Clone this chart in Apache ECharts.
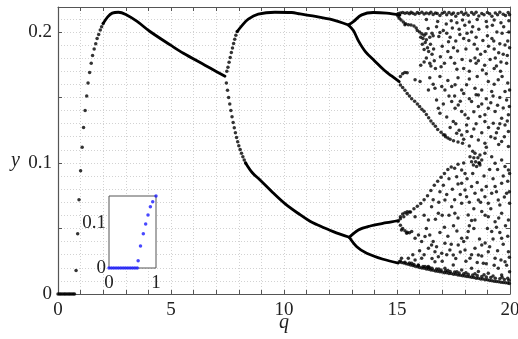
<!DOCTYPE html>
<html><head><meta charset="utf-8">
<script src="https://cdn.jsdelivr.net/npm/echarts@6/dist/echarts.min.js"></script>
<style>html,body{margin:0;padding:0;background:#fff}#c{width:518px;height:339px}</style>
</head><body><div id="c"></div>
<script>
// ---------- tick labels ----------
const xTickLabels = [0, 5, 10, 15, 20];
const yTickLabels = [0, 0.1, 0.2];
const insetXLabels = [0, 1];
const insetYLabels = [0, 0.1];

// ---------- data (q, y) ----------
const risePoints = [[0,0],[0.07,0],[0.13,0],[0.2,0],[0.27,0],[0.33,0],[0.4,0],[0.47,0],[0.53,0],[0.6,0],[0.67,0],[0.73,0],
 [0.8,0.018],[0.87,0.046],[0.93,0.072],[1.0,0.094],[1.07,0.112],[1.13,0.127],[1.2,0.14],[1.27,0.151],[1.33,0.161],
 [1.4,0.169],[1.47,0.176],[1.53,0.182],[1.6,0.187],[1.67,0.191],[1.73,0.195],[1.8,0.198],[1.87,0.2015],[1.93,0.204],[2.0,0.2065]];
const period1 = [[2.0,0.2065],[2.2,0.2115],[2.4,0.2143],[2.67,0.2150],[3.0,0.2133],[3.5,0.2080],[4.07,0.2003],[5.0,0.1897],[5.55,0.1837],[6.5,0.1746],[7.0,0.1698],[7.39,0.1662]];
const upperDots = [[7.47,0.1700],[7.52,0.1730],[7.57,0.1768],[7.62,0.1805],[7.67,0.1842],[7.72,0.1878],[7.77,0.1912],[7.82,0.1944],[7.87,0.1974],[7.93,0.2003]];
const lowerDots = [[7.45,0.1610],[7.5,0.1555],[7.55,0.1500],[7.6,0.1450],[7.65,0.1400],[7.7,0.1352],[7.75,0.1308],[7.8,0.1268],[7.85,0.1230],[7.9,0.1195],[7.95,0.1162],[8.0,0.1132],[8.06,0.1102],[8.12,0.1074],[8.18,0.1048],[8.24,0.1023],[8.3,0.1000]];
const period2Up = [[7.93,0.2003],[8.13,0.2046],[8.42,0.2097],[8.86,0.2135],[9.6,0.2150],[10.34,0.2148],[10.71,0.2137],[11.45,0.2117],[12.04,0.2097],[12.85,0.2053]];
const period2Lo = [[8.3,0.1000],[8.6,0.0925],[8.94,0.0870],[9.5,0.0775],[10.04,0.0690],[10.71,0.0605],[11.15,0.0555],[11.45,0.0530],[12.18,0.0476],[12.89,0.0433]];
const period4A = [[12.85,0.2053],[13.07,0.2079],[13.44,0.2130],[13.95,0.2148],[14.54,0.2143],[15.13,0.2128]];
const period4B = [[12.85,0.2053],[13.07,0.2010],[13.3,0.1930],[13.6,0.1850],[14.0,0.1780],[14.45,0.1705],[14.76,0.1664],[15.1,0.1620]];
const period4C = [[12.89,0.0433],[13.29,0.0489],[13.81,0.0519],[14.54,0.0544],[15.06,0.0560]];
const period4D = [[12.89,0.0433],[13.22,0.0361],[13.66,0.0311],[14.39,0.0265],[15.06,0.0236]];

const chaosTop = [[15.05,.2140],[15.15,.2145],[15.25,.2148],[15.35,.2142],[15.45,.2146],[15.55,.2138],[15.62,.2150],[15.7,.2143],[15.8,.2135],[15.9,.2148],[15.98,.2140],[16.1,.2150],[16.2,.2136],[16.3,.2145],[16.42,.2138],[16.5,.2150],[16.6,.2132],[16.7,.2145],[16.78,.2140],[16.9,.2125],[17.0,.2142],[17.1,.2150],[17.2,.2130],[17.3,.2148],[17.42,.2135],[17.5,.2145],[17.6,.2120],[17.7,.2140],[17.85,.2150],[17.95,.2132],[18.05,.2145],[18.15,.2128],[18.3,.2148],[18.4,.2135],[18.5,.2150],[18.62,.2122],[18.75,.2140],[18.85,.2130],[19.0,.2148],[19.1,.2138],[19.2,.2120],[19.35,.2145],[19.45,.2130],[19.55,.2150],[19.7,.2135],[19.8,.2125],[19.92,.2148],[19.98,.2130],
 [15.35,.2055],[16.3,.2095],[16.8,.2080],[17.4,.2085],[17.65,.2070],[17.9,.2090],[18.2,.2075],[18.55,.2095],[18.95,.2080],[19.3,.2090],[19.6,.2070],[19.95,.2085],
 [15.05,.2120],[15.1,.2105],[15.18,.2090],[15.28,.2075],[15.38,.2063],[15.5,.2055],[15.62,.2052]];
const chaosUpper = [[15.85,.2030],[16.0,.2000],[16.1,.1985],[16.2,.1975],[16.15,.1950],[16.3,.1940],[16.25,.1920],[16.45,.1960],[16.55,.1990],[16.6,.1970],[16.35,.1880],[16.2,.1865],[16.4,.1850],[16.55,.1830],[16.3,.1800],[16.2,.1770],[16.45,.1760],[16.5,.1740],[16.65,.1780],[16.7,.1720],[17.05,.2010],[17.2,.1990],[17.35,.1960],[17.25,.1850],[17.5,.1880],[17.6,.1930],[17.75,.2020],[17.95,.1950],[18.1,.1990],[18.3,.2000],[18.5,.1960],[18.55,.1870],[18.45,.1800],[18.5,.1760],[18.6,.1780],[18.9,.1850],[19.0,.1970],[19.2,.1950],[19.3,.1870],[19.35,.1800],[19.4,.1740],[19.3,.1720],[19.55,.1910],[19.65,.1990],[19.7,.1830],[19.85,.1760],[19.9,.1930],[19.98,.1880],[17.95,.1720],[18.2,.1700],[15.15,.1660],[15.25,.1680],[15.35,.1690],[15.45,.1688],
 [15.75,.2045],[15.9,.2010],[16.05,.1960],[16.12,.1905],[16.28,.1985],[16.38,.2025],[16.48,.1905],[16.62,.1870],[16.75,.2040],[16.85,.1965],[16.92,.1810],[17.0,.1890],[17.1,.1760],[17.18,.2060],[17.28,.1925],[17.38,.1805],[17.45,.2030],[17.55,.1760],[17.68,.1855],[17.78,.1980],[17.88,.1790],[18.0,.2050],[18.05,.1870],[18.18,.1935],[18.25,.1780],[18.35,.2040],[18.42,.1905],[18.62,.2020],[18.7,.1830],[18.8,.1935],[18.88,.1745],[18.98,.2040],[19.05,.1890],[19.12,.1790],[19.22,.2050],[19.28,.1930],[19.42,.2000],[19.5,.1840],[19.6,.1770],[19.72,.2040],[19.78,.1900],[19.88,.1820],[19.95,.2000],[16.9,.1995],[17.65,.1715],[18.78,.1710],[19.58,.1700],[16.05,.1745],[16.95,.1735]];
const chaosMid = [[15.15,.1595],[15.25,.1575],[15.35,.1555],[15.45,.1530],[15.55,.1510],[15.65,.1490],[15.78,.1470],[15.9,.1450],[16.0,.1430],[16.1,.1410],[16.2,.1395],[16.3,.1370],[16.4,.1345],[16.5,.1320],[16.6,.1300],[16.7,.1280],[16.8,.1255],[16.95,.1235],[17.05,.1215],[17.15,.1200],[17.25,.1190],[17.35,.1180],[17.5,.1170],[17.7,.1160],
 [15.8,.1634],[16.02,.1621],[16.39,.1557],[16.68,.1570],[16.98,.1583],[17.12,.1557],[17.42,.1583],[17.57,.1596],[17.86,.1557],[18.08,.1596],[18.45,.1570],[18.6,.1519],[18.75,.1557],[19.04,.1621],[19.19,.1545],[19.48,.1634],[19.78,.1545],[19.98,.1557],
 [17.42,.1468],[17.57,.1418],[17.71,.1443],[17.86,.1392],[18.01,.1367],[18.15,.1341],[18.3,.1468],[18.6,.1430],[18.89,.1367],[19.04,.1418],[19.34,.1392],[19.63,.1341],[19.93,.1367],[16.83,.1418],[17.49,.1316],[18.08,.1290],[18.67,.1354],[18.89,.1316],[19.26,.1303],[19.48,.1265],[19.78,.1290],[19.93,.1240],[18.3,.1201],[18.6,.1176],[18.89,.1150],[19.34,.1189],[19.63,.1163],[19.93,.1125],[17.86,.1214],[17.64,.1227],[17.12,.1214],
 [16.45,.1650],[16.6,.1600],[16.9,.1660],[17.25,.1630],[17.7,.1650],[18.2,.1640],[18.55,.1660],[18.95,.1680],[19.3,.1600],[19.65,.1660],[19.9,.1610],
 [16.75,.1480],[16.9,.1380],[17.05,.1450],[17.2,.1350],[17.3,.1510],[17.55,.1510],[17.8,.1470],[17.95,.1530],[18.2,.1490],[18.4,.1390],[18.5,.1520],[18.75,.1450],[18.95,.1490],[19.15,.1460],[19.25,.1510],[19.45,.1440],[19.55,.1500],[19.7,.1420],[19.85,.1480],[19.97,.1430],
 [17.35,.1270],[17.6,.1300],[17.75,.1250],[17.95,.1180],[18.1,.1240],[18.4,.1260],[18.5,.1300],[18.75,.1230],[19.05,.1270],[19.15,.1200],[19.4,.1230],[19.55,.1300],[19.75,.1200],[19.88,.1320],[18.2,.1130],[18.95,.1120],[19.5,.1140],[17.9,.1150]];
const chaosLow = [[18.23,.1048],[18.3,.1010],[18.38,.0984],[18.52,.0972],[18.67,.0984],[18.75,.1023],[18.67,.1061],[18.45,.1074],[18.89,.1074],[19.19,.1048],[19.34,.0997],[19.63,.1023],[19.78,.0972],[19.93,.0946],[19.98,.0920],
 [18.35,.1090],[18.58,.1040],[18.62,.1000],[18.48,.1010],[18.4,.1040],
 [15.05,.0555],[15.15,.0575],[15.3,.0590],[15.45,.0610],[15.6,.0625],[15.75,.0650],[15.9,.0670],[16.05,.0690],[16.2,.0720],[16.35,.0750],[16.5,.0790],[16.65,.0830],[16.8,.0860],[16.95,.0890],[17.1,.0920],[17.25,.0950],[17.4,.0970],[17.55,.0960],[17.7,.0990],
 [17.86,.0845],[18.01,.0794],[18.08,.0743],[18.3,.0820],[18.45,.0768],[18.6,.0717],[18.75,.0794],[18.89,.0743],[19.04,.0692],[19.19,.0768],[19.34,.0820],[19.48,.0717],[19.63,.0845],[19.85,.0768],[19.98,.0692],[17.12,.0717],[17.42,.0666],[17.56,.0616],[17.86,.0692],[18.15,.0603],[18.45,.0565],[18.75,.0630],[19.04,.0590],[19.34,.0552],[19.63,.0616],[19.93,.0565],[15.8,.0590],[16.39,.0565],[16.83,.0616],[16.53,.0666],[17.64,.0895],[17.86,.0946],[18.01,.0920],
 [15.15,.0590],[15.25,.0610],[15.35,.0620],[15.45,.0628],[15.55,.0625],[15.15,.0525],[15.25,.0500],[15.35,.0482],[15.45,.0472],[15.55,.0468],
 [16.9,.0780],[17.05,.0830],[17.2,.0760],[17.3,.0880],[17.45,.0800],[17.55,.0720],[17.7,.0840],[17.8,.0760],[17.95,.1000],[18.1,.0880],[18.2,.0700],[18.35,.0920],[18.4,.0650],[18.55,.0850],[18.65,.1000],[18.7,.0700],[18.85,.0900],[18.95,.0820],[19.1,.0950],[19.15,.0650],[19.25,.0880],[19.4,.0780],[19.45,.0950],[19.55,.0680],[19.7,.0900],[19.75,.0740],[19.9,.0860],[19.97,.0780],[17.3,.0600],[17.7,.0580],[18.3,.0560],[18.9,.0600],[19.5,.0580],[16.7,.0570],[17.0,.0600],[16.2,.0600],[16.6,.0720],[16.85,.0700]];
const chaosBottom = [[15.1,.0246],[15.2,.0241],[15.3,.0237],[15.4,.0231],[15.5,.0227],[15.6,.0221],[15.7,.0217],[15.8,.0211],[15.9,.0208],[16.0,.0203],[16.1,.0199],[16.2,.0196],[16.3,.0190],[16.4,.0188],[16.5,.0183],[16.6,.0181],[16.7,.0176],[16.8,.0174],[16.9,.0169],[17.0,.0168],[17.1,.0163],[17.2,.0162],[17.3,.0157],[17.4,.0156],[17.5,.0151],[17.6,.0150],[17.7,.0145],[17.8,.0144],[17.9,.0139],[18.0,.0138],[18.1,.0133],[18.2,.0132],[18.3,.0127],[18.4,.0126],[18.5,.0121],[18.6,.0120],[18.7,.0115],[18.8,.0114],[18.9,.0109],[19.0,.0108],[19.1,.0103],[19.2,.0102],[19.3,.0098],[19.4,.0096],[19.5,.0093],[19.6,.0090],[19.7,.0087],[19.8,.0085],[19.9,.0083],[19.97,.0081],
 [15.15,.0252],[15.35,.0243],[15.55,.0236],[15.75,.0226],[15.95,.0218],[16.15,.0210],[16.35,.0204],[16.55,.0196],[16.75,.0190],[16.95,.0184],[17.15,.0178],[17.35,.0172],[17.55,.0168],[17.75,.0160],[17.95,.0155],[18.15,.0150],[18.35,.0145],[18.55,.0141],[18.75,.0134],[18.95,.0130],[19.15,.0126],[19.35,.0120],[19.55,.0116],[19.75,.0110],[19.95,.0105],
 [16.45,.0200],[16.85,.0190],[17.25,.0180],[17.65,.0170],[18.05,.0162],[18.45,.0155],[18.85,.0147],[19.25,.0138],[19.65,.0128],[19.9,.0120],
 [15.2,.0273],[15.5,.0273],[15.8,.0260],[16.09,.0273],[15.65,.0235],[15.94,.0222],[16.24,.0210],
 [15.2,.0489],[15.43,.0463],[15.65,.0476],[15.8,.0425],[16.09,.0400],[16.24,.0438],[16.39,.0349],[16.53,.0374],[16.68,.0323],[16.83,.0285],[16.98,.0310],[17.12,.0387],[17.34,.0336],[17.49,.0298],[17.71,.0374],[17.86,.0425],[18.01,.0336],[18.15,.0476],[18.23,.0273],[18.45,.0349],[18.6,.0298],[18.75,.0374],[18.82,.0234],[19.04,.0323],[19.19,.0476],[19.34,.0273],[19.48,.0196],[19.63,.0425],[19.78,.0247],[19.93,.0323],[19.98,.0170],[16.39,.0210],[17.12,.0196],[17.86,.0184],[18.6,.0171],[19.04,.0158],[19.63,.0145],[16.68,.0247],[17.49,.0222],[18.3,.0196],
 [16.0,.0330],[16.2,.0300],[16.45,.0450],[16.6,.0400],[16.75,.0360],[16.9,.0470],[17.0,.0250],[17.2,.0300],[17.25,.0440],[17.4,.0380],[17.6,.0270],[17.65,.0480],[17.8,.0320],[17.95,.0400],[18.05,.0250],[18.1,.0430],[18.3,.0300],[18.4,.0500],[18.55,.0240],[18.65,.0420],[18.75,.0290],[18.9,.0390],[18.95,.0230],[19.1,.0360],[19.25,.0420],[19.3,.0220],[19.45,.0330],[19.55,.0470],[19.6,.0260],[19.7,.0380],[19.85,.0220],[19.9,.0440],[19.97,.0280],[15.7,.0300],[15.95,.0450],[16.3,.0500],[16.55,.0270],[17.1,.0510],[17.5,.0520],[18.2,.0520],[19.0,.0500],[19.4,.0510],[19.8,.0520]];

const insetPoints = [[0,0],[0.05,0],[0.1,0],[0.15,0],[0.2,0],[0.25,0],[0.3,0],[0.35,0],[0.4,0],[0.45,0],[0.5,0],[0.55,0],[0.6,0],
 [0.62,0.016],[0.67,0.049],[0.73,0.076],[0.78,0.098],[0.83,0.118],[0.88,0.136],[0.93,0.147],[1.0,0.16]];

// ---------- chart ----------
const FONT = '"Liberation Serif", "DejaVu Serif", serif';
const AX = '#555';
const INK = '#000';
const GRIDLINE = {type: [1, 2], color: '#d2d2d2', width: 1};
const chart = echarts.init(document.getElementById('c'), null, {renderer: 'canvas'});
const isLabel = (v, list) => list.some(t => Math.abs(v - t) < 1e-9);
const dots = (data) => ({type: 'scatter', data, symbolSize: 3.5, itemStyle: {color: INK}, xAxisIndex: 0, yAxisIndex: 1, z: 3, silent: true});
const branch = (data) => ({type: 'line', data, xAxisIndex: 0, yAxisIndex: 1, showSymbol: false, symbol: 'none', smooth: 0.35,
  lineStyle: {color: INK, width: 2.8, cap: 'round', join: 'round'}, z: 3, silent: true});
const labelStyle = {fontFamily: FONT, fontSize: 19, color: '#222'};

chart.setOption({
  animation: false,
  backgroundColor: '#fff',
  grid: [
    {left: 58, top: 7, width: 452, height: 287, outerBoundsMode: 'none', containLabel: false},
    {left: 109, top: 196, width: 47, height: 72, show: true, backgroundColor: '#fff', borderColor: AX, borderWidth: 1, z: 10, outerBoundsMode: 'none', containLabel: false}
  ],
  xAxis: [
    {gridIndex: 0, type: 'value', min: 0, max: 20, interval: 1, position: 'bottom',
     axisLine: {show: true, onZero: false, lineStyle: {color: AX, width: 1.2}},
     axisTick: {show: true, inside: true, length: 4, lineStyle: {color: AX}},
     splitLine: {show: true, lineStyle: GRIDLINE},
     axisLabel: Object.assign({margin: 7, formatter: v => isLabel(v, xTickLabels) ? String(v) : ''}, labelStyle),
     name: 'q', nameLocation: 'middle', nameGap: 19, nameMoveOverlap: false,
     nameTextStyle: {fontFamily: FONT, fontSize: 20, fontStyle: 'italic', color: '#222'}},
    {gridIndex: 0, type: 'value', min: 0, max: 20, interval: 1, position: 'top',
     axisLine: {show: true, onZero: false, lineStyle: {color: AX, width: 1}},
     axisTick: {show: true, inside: true, length: 4, lineStyle: {color: AX}},
     splitLine: {show: false}, axisLabel: {show: false}},
    {gridIndex: 1, type: 'value', min: 0, max: 1, interval: 1, z: 10,
     axisLine: {show: false}, axisTick: {show: false}, splitLine: {show: false},
     axisLabel: Object.assign({margin: 6, formatter: v => isLabel(v, insetXLabels) ? String(v) : ''}, labelStyle)}
  ],
  yAxis: [
    {gridIndex: 0, type: 'value', min: 0, max: 0.219, interval: 0.01,
     axisLine: {show: false}, axisTick: {show: false}, axisLabel: {show: false},
     splitLine: {show: true, lineStyle: GRIDLINE}},
    {gridIndex: 0, type: 'value', min: 0, max: 0.219, interval: 0.05, position: 'left',
     axisLine: {show: true, onZero: false, lineStyle: {color: AX, width: 1.2}},
     axisTick: {show: true, inside: true, length: 4, lineStyle: {color: AX}},
     splitLine: {show: false},
     axisLabel: Object.assign({margin: 6, formatter: v => {
        const r = Math.round(v * 10) / 10;
        return (Math.abs(v - r) < 1e-9 && isLabel(r, yTickLabels)) ? String(r) : '';
     }}, labelStyle)},
    {gridIndex: 0, type: 'value', min: 0, max: 0.219, interval: 0.05, position: 'right',
     axisLine: {show: true, onZero: false, lineStyle: {color: AX, width: 1}},
     axisTick: {show: true, inside: true, length: 4, lineStyle: {color: AX}},
     splitLine: {show: false}, axisLabel: {show: false}},
    {gridIndex: 1, type: 'value', min: 0, max: 0.16, interval: 0.1, z: 10,
     axisLine: {show: false}, axisTick: {show: false}, splitLine: {show: false},
     axisLabel: Object.assign({margin: 3, formatter: v => {
        const r = Math.round(v * 10) / 10;
        return (Math.abs(v - r) < 1e-9 && isLabel(r, insetYLabels)) ? String(r) : '';
     }}, labelStyle)}
  ],
  graphic: [
    {type: 'text', left: 11, top: 151, z: 20,
     style: {text: 'y', fontFamily: FONT, fontSize: 20, fontStyle: 'italic', fill: '#222'}}
  ],
  series: [
    dots(risePoints),
    branch(period1),
    dots(upperDots),
    dots(lowerDots),
    branch(period2Up),
    branch(period2Lo),
    branch(period4A),
    branch(period4B),
    branch(period4C),
    branch(period4D),
    dots(chaosTop),
    dots(chaosUpper),
    dots(chaosMid),
    dots(chaosLow),
    dots(chaosBottom),
    {type: 'scatter', data: insetPoints, xAxisIndex: 2, yAxisIndex: 3, symbolSize: 3.5, itemStyle: {color: '#1a1aff'}, z: 12, silent: true}
  ]
});
</script></body></html>
